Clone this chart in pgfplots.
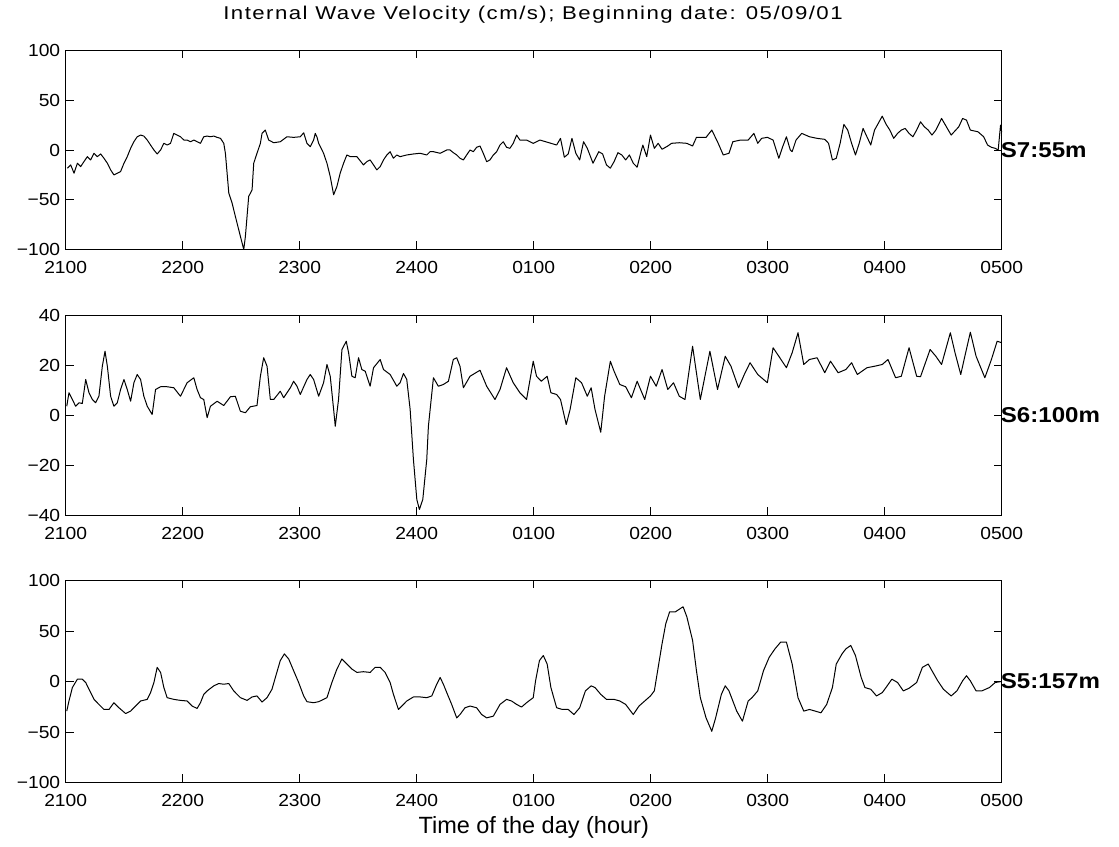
\documentclass[border=0pt]{standalone}
\usepackage{fontspec}
\setmainfont{Liberation Sans}
\usepackage{pgfplots}
\pgfplotsset{compat=1.18}
\newfontfamily\tickfont[FakeStretch=1.1]{Liberation Sans}
\newfontfamily\titlefont[FakeStretch=1.2,LetterSpace=8]{Liberation Sans}
\newfontfamily\lblfont[FakeStretch=1.12]{Liberation Sans}
\pgfplotsset{panel/.style={
  scale only axis, width=936pt, xmin=0, xmax=8,
  xtick={0,1,...,8},
  xticklabels={2100,2200,2300,2400,0100,0200,0300,0400,0500},
  tick align=inside, xtick pos=both, ytick pos=both,
  major tick length=8pt,
  tick style={black, line width=0.9pt},
  axis line style={black, line width=1.2pt},
  ticklabel style={font=\tickfont\fontsize{17.5}{17.5}\selectfont},
  xticklabel style={yshift=-8pt},
  yticklabel style={xshift=-2pt},
  clip=false, anchor=south west}}
\begin{document}
\begin{tikzpicture}[x=1pt,y=1pt]
\path[use as bounding box] (0,0) rectangle (1119,846);
% ---------------- panel 1 ----------------
\begin{axis}[panel, at={(65.7pt,596.5pt)}, height=199pt,
  ymin=-100, ymax=100, ytick={-100,-50,0,50,100},
  yticklabels={−100,−50,0,50,100}]
\addplot[black, line width=1pt, line join=round] coordinates {
(0.014,-18.3)(0.043,-15)(0.071,-23.3)(0.100,-13.3)(0.128,-16.7)(0.156,-11.7)(0.185,-6.7)(0.213,-10)
(0.242,-3.3)(0.270,-6.7)(0.299,-4)(0.327,-8.3)(0.356,-13.3)(0.384,-20)(0.412,-25)(0.441,-23.3)
(0.469,-21.7)(0.498,-13.3)(0.526,-6.7)(0.555,1.7)(0.583,8.3)(0.611,13.3)(0.640,15)(0.668,14)
(0.697,10)(0.725,5)(0.754,0)(0.782,-4)(0.811,0)(0.839,6.7)(0.867,5)(0.896,6.7)(0.924,16.7)
(0.953,15)(0.981,13.3)(1.010,10)(1.038,10)(1.067,8.3)(1.095,10)(1.123,8.3)(1.152,6.7)(1.180,13.3)
(1.209,14)(1.237,13.3)(1.266,14)(1.294,12.7)(1.323,11.7)(1.351,6.7)(1.365,-3.3)(1.394,-43.3)
(1.422,-53.3)(1.450,-66.7)(1.493,-86.7)(1.522,-100)(1.536,-86.7)(1.550,-66.7)(1.564,-46.7)
(1.593,-40)(1.607,-13.3)(1.635,-3.3)(1.664,6.7)(1.678,16.7)(1.706,20)(1.735,10)(1.778,7.3)
(1.834,8.3)(1.891,13.3)(1.948,12.7)(2.005,13.3)(2.034,17.3)(2.062,6.7)(2.090,3.3)(2.119,10)
(2.133,16.7)(2.147,13.3)(2.162,6.7)(2.204,-3.3)(2.233,-13.3)(2.261,-26.7)(2.290,-45)(2.318,-36.7)
(2.346,-23.3)(2.375,-13.3)(2.403,-5)(2.432,-6.7)(2.489,-6.7)(2.545,-15)(2.574,-11.7)(2.602,-10)
(2.631,-15)(2.659,-20)(2.688,-16.7)(2.716,-10)(2.745,-5)(2.773,-1.7)(2.801,-8.3)(2.830,-5)
(2.858,-6.7)(2.915,-5)(2.972,-4)(3.029,-3.3)(3.086,-5)(3.114,-1.7)(3.143,-1.7)(3.200,-3.3)
(3.228,-1.7)(3.257,0)(3.285,0)(3.313,-2.7)(3.342,-5)(3.370,-8.3)(3.399,-10)(3.427,-5)(3.456,0)
(3.484,-1.7)(3.512,2.7)(3.541,4)(3.569,-3.3)(3.598,-11.7)(3.626,-10)(3.655,-5)(3.683,-1.7)
(3.712,5)(3.740,8.3)(3.768,2.7)(3.797,1.7)(3.825,6.7)(3.854,15)(3.882,10)(3.939,10)(3.996,6.7)
(4.053,10)(4.131,7.3)(4.196,5)(4.229,11.7)(4.262,-7.3)(4.295,-4)(4.327,11.7)(4.360,-3.3)
(4.393,-10)(4.426,8.3)(4.458,1.7)(4.507,-13.3)(4.556,-1.7)(4.589,-4)(4.622,-15)(4.655,-18.3)
(4.687,-11.7)(4.720,-2.7)(4.753,-5)(4.786,-10)(4.818,-5)(4.851,-13.3)(4.884,-17.3)(4.917,-1.7)
(4.933,5)(4.966,-6.7)(4.998,15)(5.031,1.7)(5.064,6.7)(5.097,0.7)(5.146,4)(5.178,6.7)(5.244,7.3)
(5.309,6.7)(5.358,4)(5.391,12.7)(5.473,12.7)(5.522,20)(5.571,8.3)(5.620,-5)(5.669,-3.3)
(5.702,8.3)(5.768,10)(5.833,10)(5.882,16.7)(5.915,6.7)(5.948,11.7)(5.997,12.7)(6.046,10)
(6.095,-8.3)(6.128,3.3)(6.160,13.3)(6.193,0)(6.209,-1.7)(6.242,10)(6.291,16.7)(6.357,13.3)
(6.422,11.7)(6.488,10.7)(6.520,6.7)(6.553,-10)(6.586,-8.3)(6.619,6.7)(6.651,25.7)(6.684,20)
(6.717,6.7)(6.750,-5)(6.782,6.7)(6.815,21.7)(6.848,13.3)(6.881,5)(6.913,20)(6.979,34)(7.011,26)
(7.044,20)(7.077,11.7)(7.110,16.7)(7.142,20)(7.175,21.7)(7.208,16.7)(7.241,13.3)(7.273,20)
(7.306,28.3)(7.339,23.3)(7.372,20)(7.404,15)(7.437,20)(7.486,31.7)(7.519,25)(7.568,15)
(7.633,23.3)(7.666,31.7)(7.699,30)(7.732,20)(7.797,18.3)(7.846,13.3)(7.879,5)(7.912,2.7)
(7.944,1.7)(7.970,0)(7.990,25)(8.0,18)
};
\node[anchor=west, inner sep=0pt, xshift=-1pt, font=\lblfont\bfseries\fontsize{21.5}{21.5}\selectfont] at (axis cs:8,0) {S7:55m};
\end{axis}
% ---------------- panel 2 ----------------
\begin{axis}[panel, at={(65.7pt,330.5pt)}, height=200pt,
  ymin=-40, ymax=40, ytick={-40,-20,0,20,40},
  yticklabels={−40,−20,0,20,40}]
\addplot[black, line width=1pt, line join=round] coordinates {
(0.009,3.7)(0.028,9.1)(0.057,6.4)(0.085,3.7)(0.114,5.1)(0.142,4.8)(0.171,14.4)(0.199,9.1)
(0.228,6.4)(0.256,5.1)(0.284,7.7)(0.313,19.7)(0.336,25.7)(0.356,19.7)(0.384,7.7)(0.412,3.7)
(0.441,5.1)(0.469,10.4)(0.498,14.4)(0.526,10.4)(0.555,5.7)(0.583,13.1)(0.611,16.4)(0.640,14.4)
(0.668,7.7)(0.697,3.7)(0.739,0.4)(0.768,10.4)(0.811,11.5)(0.867,11.5)(0.924,11.1)(0.981,7.7)
(1.038,13.1)(1.095,15.1)(1.123,10.4)(1.152,7.1)(1.180,6.4)(1.209,-0.9)(1.237,3.7)(1.294,5.7)
(1.351,4)(1.408,7.5)(1.450,7.7)(1.493,1.7)(1.536,1.1)(1.578,3.5)(1.635,4)(1.664,15.7)(1.692,23.1)
(1.721,19.7)(1.749,6.4)(1.778,6.4)(1.834,9.7)(1.863,7.1)(1.920,11.1)(1.948,13.7)(1.977,11.7)
(2.005,8.4)(2.062,14.4)(2.090,16.4)(2.119,14.4)(2.162,7.7)(2.204,13.1)(2.233,20.4)(2.261,15.7)
(2.290,2.4)(2.304,-4.3)(2.332,6.4)(2.361,26.4)(2.398,29.7)(2.418,25.1)(2.446,15.7)(2.474,15.1)
(2.503,23.1)(2.531,18.4)(2.560,17.7)(2.602,11.7)(2.631,19.1)(2.688,22.4)(2.716,18.4)(2.773,16.4)
(2.830,11.7)(2.858,13.1)(2.887,16.8)(2.915,14.4)(2.944,2.4)(2.972,-17.6)(3.001,-33.6)(3.023,-37.6)
(3.052,-33.6)(3.086,-17.6)(3.100,-4.3)(3.143,15.1)(3.185,11.7)(3.228,12.4)(3.271,13.7)(3.313,22.4)
(3.342,23.1)(3.370,19.7)(3.399,11.1)(3.456,15.7)(3.541,18.1)(3.598,11.7)(3.669,6.4)(3.712,10.4)
(3.768,19.1)(3.825,13.1)(3.882,9.1)(3.939,6.4)(3.996,21.7)(4.024,15.7)
(4.065,13.7)(4.115,15.7)(4.147,9.1)(4.196,8.4)(4.229,6.4)(4.278,-3.6)(4.311,2.4)(4.360,15.1)
(4.409,13.1)(4.458,7.7)(4.491,11.1)(4.524,2.4)(4.573,-6.7)(4.606,7.7)(4.655,21.7)(4.687,17.7)
(4.736,12.4)(4.786,11.5)(4.835,7.1)(4.884,13.7)(4.949,6.4)(4.998,15.7)(5.047,11.7)(5.097,18.4)
(5.146,10.4)(5.195,13.1)(5.244,7.7)(5.293,6.4)(5.358,27.7)(5.424,6.4)(5.506,25.7)(5.571,10.4)
(5.637,23.7)(5.686,19.7)(5.751,11.1)(5.800,16.4)(5.849,21.1)(5.915,16.4)(5.997,13.1)(6.046,27.1)
(6.095,23.7)(6.160,19.1)(6.209,25.1)(6.259,33.1)(6.308,20.4)(6.357,22.4)(6.422,23.1)(6.488,17.1)
(6.537,21.7)(6.602,17.1)(6.668,18.4)(6.717,21.1)(6.766,16.4)(6.848,19.1)(6.913,19.7)(6.979,20.4)
(7.028,22.4)(7.093,15.1)(7.142,15.7)(7.208,27.1)(7.273,15.7)(7.306,15.5)(7.388,26.4)(7.437,23.7)
(7.486,20.4)(7.561,33.1)(7.601,25.1)(7.650,16.4)(7.682,23.1)(7.732,33.3)(7.781,23.7)(7.856,15.1)
(7.912,22.4)(7.961,29.7)(8.0,29.1)
};
\node[anchor=west, inner sep=0pt, xshift=-1pt, font=\lblfont\bfseries\fontsize{21.5}{21.5}\selectfont] at (axis cs:8,0) {S6:100m};
\end{axis}
% ---------------- panel 3 ----------------
\begin{axis}[panel, at={(65.7pt,63.5pt)}, height=202pt,
  ymin=-100, ymax=100, ytick={-100,-50,0,50,100},
  yticklabels={−100,−50,0,50,100}]
\addplot[black, line width=1pt, line join=round] coordinates {
(0.009,-29.3)(0.028,-19.3)(0.057,-6)(0.100,2.3)(0.142,2.3)(0.171,-1)(0.213,-11)(0.242,-17.7)
(0.284,-22.7)(0.327,-27.7)(0.370,-27.7)(0.412,-21)(0.455,-26)(0.512,-31.7)(0.555,-29.3)
(0.597,-24.3)(0.640,-19.3)(0.697,-17.7)(0.725,-11)(0.754,-1)(0.782,14)(0.811,9)(0.839,-6)
(0.867,-16)(0.924,-17.7)(0.981,-18.7)(1.038,-19.3)(1.081,-24.3)(1.123,-26.7)(1.152,-21)
(1.180,-12.7)(1.209,-9.3)(1.266,-4.3)(1.308,-2)(1.351,-2.7)(1.394,-2)(1.436,-9.3)(1.493,-16)
(1.550,-18.7)(1.593,-15.3)(1.635,-14.3)(1.678,-20.3)(1.721,-16)(1.763,-7.7)(1.792,4)(1.834,20.7)
(1.869,27.3)(1.906,22.3)(1.948,10.7)(1.991,-1)(2.034,-14.3)(2.062,-20)(2.119,-21)(2.162,-20)
(2.204,-17.7)(2.233,-16)(2.275,-1)(2.318,12.3)(2.361,22.3)(2.403,17.3)(2.446,12.3)(2.489,9)
(2.545,9.7)(2.602,9)(2.645,14)(2.688,14)(2.730,9)(2.773,-1)(2.801,-12.7)(2.844,-27.7)
(2.873,-24.3)(2.915,-19.3)(2.972,-15.3)(3.029,-15.3)(3.086,-16)(3.129,-14.3)(3.171,-2.7)
(3.200,4)(3.228,-2.7)(3.257,-11)(3.299,-22.7)(3.342,-36)(3.370,-32.7)(3.413,-26)(3.456,-24.3)
(3.512,-26)(3.555,-32.7)(3.598,-36)(3.655,-34.3)(3.712,-22.7)(3.768,-17.7)(3.811,-19.3)
(3.854,-22.7)(3.896,-25.3)(3.939,-21)(3.996,-16)
(4.016,0.7)(4.049,20.7)(4.082,25.7)(4.115,17.3)(4.147,-6)(4.196,-26)(4.245,-27.7)(4.295,-27.7)
(4.344,-32.7)(4.393,-26)(4.442,-9.3)(4.491,-4.3)(4.524,-6)(4.573,-12.7)(4.622,-17.7)(4.687,-17.7)
(4.736,-19.3)(4.786,-22.7)(4.851,-32.7)(4.900,-24.3)(4.949,-19.3)(4.998,-14.3)(5.031,-9.3)
(5.064,14)(5.097,37.3)(5.129,57.3)(5.162,69)(5.211,69)(5.277,74)(5.309,64)(5.358,40.7)
(5.391,10.7)(5.424,-16)(5.473,-36)(5.522,-49.3)(5.555,-36)(5.604,-12.7)(5.637,-4.3)(5.669,-9.3)
(5.735,-29.3)(5.784,-39.3)(5.833,-19.3)(5.866,-16)(5.915,-9.3)(5.964,10.7)(6.013,24)(6.062,32.3)
(6.111,39)(6.160,39)(6.209,17.3)(6.259,-16)(6.308,-29.3)(6.357,-27.7)(6.406,-29.3)(6.455,-31)
(6.504,-22.7)(6.553,-6)(6.586,17.3)(6.635,27.3)(6.668,32.3)(6.710,35.7)(6.750,25.7)(6.799,4)
(6.831,-6)(6.881,-7.7)(6.930,-14.3)(6.979,-11)(7.011,-6)(7.061,2.3)(7.110,-1)(7.159,-9.3)
(7.208,-6.7)(7.273,-1)(7.322,14)(7.372,17.3)(7.404,10.7)(7.453,0.7)(7.502,-7.7)(7.568,-14.3)
(7.617,-9.3)(7.666,0.7)(7.699,5.7)(7.732,0.7)(7.781,-9.3)(7.830,-9.3)(7.895,-6)(7.944,-1)(8.0,0)
};
\node[anchor=west, inner sep=0pt, xshift=-1pt, font=\lblfont\bfseries\fontsize{21.5}{21.5}\selectfont] at (axis cs:8,0) {S5:157m};
\end{axis}
\node[font=\titlefont\fontsize{18.5}{18.5}\selectfont] at (533,831) {Internal Wave Velocity (cm/s); Beginning date: 05/09/01};
\node[font=\fontsize{23.5}{23.5}\selectfont] at (533.7,19) {Time of the day (hour)};
\end{tikzpicture}
\end{document}
